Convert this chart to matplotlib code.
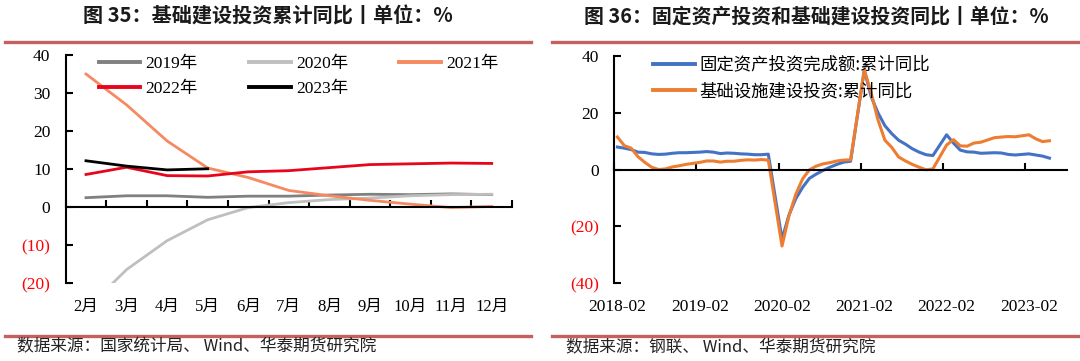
import matplotlib
matplotlib.use("Agg")
import matplotlib.pyplot as plt
from matplotlib.lines import Line2D
from matplotlib.ticker import FuncFormatter

# ---------------- data ----------------
months_left = ["2月", "3月", "4月", "5月", "6月", "7月", "8月", "9月", "10月", "11月", "12月"]
infra_2019 = [2.5, 3.0, 3.0, 2.6, 2.9, 2.9, 3.2, 3.4, 3.3, 3.5, 3.3]
infra_2020 = [-26.9, -16.4, -8.8, -3.3, -0.1, 1.2, 2.0, 2.4, 3.0, 3.3, 3.4]
infra_2021 = [35.0, 26.9, 17.4, 10.3, 7.8, 4.4, 3.0, 1.8, 0.8, -0.1, 0.2]
infra_2022 = [8.6, 10.5, 8.3, 8.2, 9.3, 9.6, 10.4, 11.2, 11.4, 11.6, 11.5]
infra_2023 = [12.2, 10.8, 9.8, 10.1]
infra_2018 = [11.4, 8.4, 7.5, 4.5, 2.5, 0.8, 0.0, 0.2, 0.9, 1.3, 1.8]

fai_2018 = [7.9, 7.5, 7.0, 6.1, 6.0, 5.5, 5.3, 5.4, 5.7, 5.9, 5.9]
fai_2019 = [6.1, 6.3, 6.1, 5.6, 5.8, 5.7, 5.5, 5.4, 5.2, 5.2, 5.4]
fai_2020 = [-24.5, -16.1, -10.3, -6.3, -3.1, -1.6, -0.3, 0.8, 1.8, 2.6, 2.9]
fai_2021 = [35.0, 25.6, 19.9, 15.4, 12.6, 10.3, 8.9, 7.3, 6.1, 5.2, 4.9]
fai_2022 = [12.2, 9.3, 6.8, 6.2, 6.1, 5.7, 5.8, 5.9, 5.8, 5.3, 5.1]
fai_2023 = [5.5, 5.1, 4.7, 4.0]

years_right = [2018, 2019, 2020, 2021, 2022, 2023]
fai_by_year = [fai_2018, fai_2019, fai_2020, fai_2021, fai_2022, fai_2023]
infra_by_year = [infra_2018, infra_2019, infra_2020, infra_2021, infra_2022, infra_2023]
right_tick_labels = ["2018-02", "2019-02", "2020-02", "2021-02", "2022-02", "2023-02"]

# ---------------- style ----------------
serif_cjk = ["Liberation Serif", "Noto Sans CJK SC"]
cjk = ["Noto Sans CJK SC", "DejaVu Sans"]
plt.rcParams["font.family"] = serif_cjk

W, H = 1080, 361
fig = plt.figure(figsize=(W / 100, H / 100), dpi=100)

def fx(px):
    return px / W

def fy(py):
    return 1 - py / H

rule_color = "#C4605E"
for x0, x1 in [(5, 531), (552, 1080)]:
    for yy in (41.7, 336):
        fig.add_artist(Line2D([fx(x0), fx(x1)], [fy(yy), fy(yy)], color=rule_color, lw=2.4))

fig.text(fx(268), fy(16.5), "图 35：基础建设投资累计同比丨单位：%", ha="center", va="center",
         fontsize=14.5, fontweight="bold", family=cjk, color="#1a1a1a")
fig.text(fx(816), fy(16.5), "图 36：固定资产投资和基础建设投资同比丨单位：%", ha="center", va="center",
         fontsize=14.3, fontweight="bold", family=cjk, color="#1a1a1a")
fig.text(fx(17), fy(347), "数据来源：国家统计局、 Wind、华泰期货研究院", ha="left", va="center",
         fontsize=12, family=cjk, color="#222222")
fig.text(fx(566), fy(347), "数据来源：钢联、 Wind、华泰期货研究院", ha="left", va="center",
         fontsize=12, family=cjk, color="#222222")


def neg_fmt(v, pos):
    if v < 0:
        return "(%d)" % abs(round(v))
    return "%d" % round(v)


def style_axes(ax):
    ax.spines["top"].set_visible(False)
    ax.spines["right"].set_visible(False)
    ax.spines["bottom"].set_position(("data", 0))
    for s in ("left", "bottom"):
        ax.spines[s].set_linewidth(1.5)
        ax.spines[s].set_color("black")
    ax.tick_params(axis="y", direction="in", length=5, width=1.5, labelsize=12.5, pad=11)
    ax.tick_params(axis="x", direction="in", length=5, width=1.5, labelbottom=False)
    ax.yaxis.set_major_formatter(FuncFormatter(neg_fmt))


# ---------------- left chart ----------------
axL = fig.add_axes([fx(65.7), fy(283.3), fx(446.3), (283.3 - 55) / H])
xl = list(range(len(months_left)))
h19, = axL.plot(xl, infra_2019, color="#808080", lw=2.0, label="2019年")
h20, = axL.plot(xl, infra_2020, color="#BFBFBF", lw=2.0, label="2020年")
h21, = axL.plot(xl, infra_2021, color="#F58A62", lw=2.0, label="2021年")
h22, = axL.plot(xl, infra_2022, color="#E8051C", lw=2.0, label="2022年")
h23, = axL.plot(xl[:len(infra_2023)], infra_2023, color="black", lw=2.0, label="2023年")
axL.set_xlim(-0.5, len(months_left) - 0.5)
axL.set_ylim(-20, 40)
axL.set_yticks([-20, -10, 0, 10, 20, 30, 40])
style_axes(axL)
axL.set_xticks([i - 0.5 for i in range(len(months_left) + 1)])
secL = axL.secondary_xaxis(0.0)
secL.set_xticks(xl)
secL.set_xticklabels(months_left)
secL.tick_params(length=0, pad=11, labelsize=12)
secL.spines["bottom"].set_visible(False)
for lab in secL.get_xticklabels():
    lab.set_family(serif_cjk)
# legend filled row by row: 2019 2020 2021 / 2022 2023
order = [h19, h22, h20, h23, h21]
legL = axL.legend(order, [h.get_label() for h in order], loc="upper left",
                  bbox_to_anchor=(0.074, 0.995), ncol=3, frameon=False,
                  fontsize=12.5, handlelength=2.4, handletextpad=0.3, columnspacing=2.95,
                  labelspacing=0.5, borderpad=0, borderaxespad=0)
for line in legL.get_lines():
    line.set_linewidth(2.8)

# ---------------- right chart ----------------
axR = fig.add_axes([fx(614), fy(283.3), fx(452.6), (283.3 - 55.7) / H])
xr, fai_all, infra_all = [], [], []
for yr, fv, iv in zip(years_right, fai_by_year, infra_by_year):
    for m in range(len(fv)):
        xr.append((yr - 2018) * 12 + m)
        fai_all.append(fv[m])
        infra_all.append(iv[m])
axR.plot(xr, fai_all, color="#4472C4", lw=2.2, label="固定资产投资完成额:累计同比")
axR.plot(xr, infra_all, color="#ED7D31", lw=2.2, label="基础设施建设投资:累计同比")
axR.set_xlim(-0.5, 65.5)
axR.set_ylim(-40, 40)
axR.set_yticks([-40, -20, 0, 20, 40])
style_axes(axR)
axR.set_xticks([12 * k - 0.5 for k in range(len(right_tick_labels))])
secR = axR.secondary_xaxis(0.0)
secR.set_xticks([12 * k for k in range(len(right_tick_labels))])
secR.set_xticklabels(right_tick_labels)
secR.tick_params(length=0, pad=11, labelsize=12.5)
secR.spines["bottom"].set_visible(False)
legR = axR.legend(loc="upper left", bbox_to_anchor=(0.086, 1.0), ncol=1, frameon=False,
                  prop={"family": cjk, "size": 12.5}, handlelength=2.4, handletextpad=0.3,
                  labelspacing=0.48, borderpad=0, borderaxespad=0)
for line in legR.get_lines():
    line.set_linewidth(2.8)

for ax in (axL, axR):
    for lab in ax.get_yticklabels():
        txt = lab.get_text()
        if txt.startswith("("):
            lab.set_color("#FF0000")

fig.savefig("out.png", dpi=100)
